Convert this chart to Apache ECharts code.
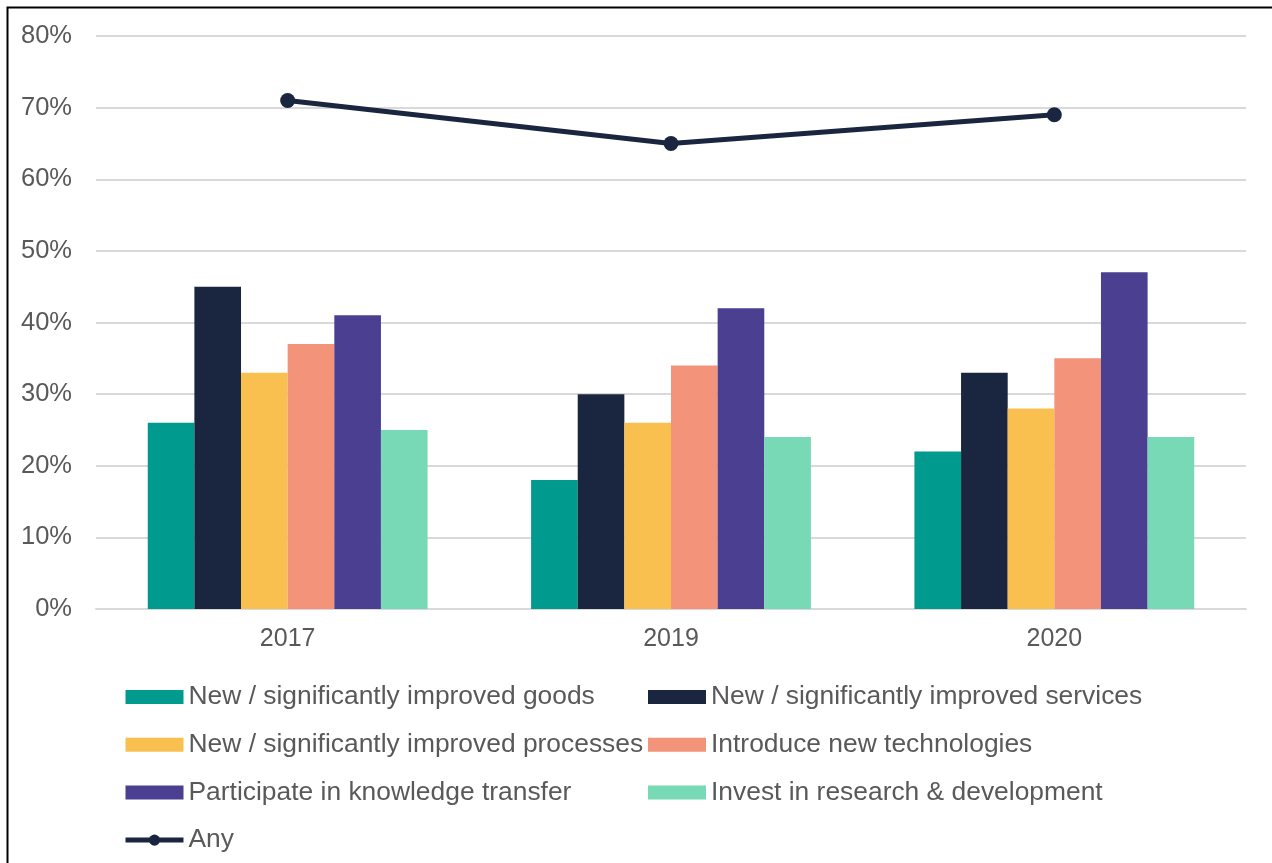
<!DOCTYPE html>
<html>
<head>
<meta charset="utf-8">
<script src="https://cdn.jsdelivr.net/npm/echarts@6/dist/echarts.min.js"></script>
<style>html,body{margin:0;padding:0;background:#fff;}#c{width:1272px;height:863px;}</style>
</head>
<body>
<div id="c"></div>
<script>
const categories = ['2017', '2019', '2020'];
const goods = [26, 18, 22];
const services = [45, 30, 33];
const processes = [33, 26, 28];
const technologies = [37, 34, 35];
const knowledge = [41, 42, 47];
const research = [25, 24, 24];
const anyVals = [71, 65, 69];
const yTicks = [0, 10, 20, 30, 40, 50, 60, 70, 80];

const names = {
  goods: 'New / significantly improved goods',
  services: 'New / significantly improved services',
  processes: 'New / significantly improved processes',
  technologies: 'Introduce new technologies',
  knowledge: 'Participate in knowledge transfer',
  research: 'Invest in research & development',
  any: 'Any'
};
const colors = {
  goods: '#009A8E', services: '#1A2640', processes: '#F9C04F',
  technologies: '#F2937A', knowledge: '#4A3F91', research: '#78D9B6', any: '#1A2640'
};

function bar(key, data) {
  return { name: names[key], type: 'bar', data: data, barGap: 0, barCategoryGap: '27%',
    itemStyle: { color: colors[key] } };
}
function rectItem(key) { return { name: names[key], icon: 'rect' }; }

const chart = echarts.init(document.getElementById('c'));
const legendText = { fontFamily: 'Liberation Sans, Arial, sans-serif', fontSize: 26.4, color: '#595959', lineHeight: 26 };
chart.setOption({
  animation: false,
  textStyle: { fontFamily: 'Liberation Sans, Arial, sans-serif' },
  graphic: [{ type: 'rect', left: 5, top: 5, shape: { width: 1300, height: 900 },
    style: { fill: 'none', stroke: '#000', lineWidth: 2 }, z: 100 }],
  grid: { left: 96, right: 26, top: 36, bottom: 254 },
  legend: [
    { orient: 'vertical', left: 118, top: 679, itemWidth: 58, itemHeight: 14, itemGap: 21.7,
      textStyle: legendText,
      data: [rectItem('goods'), rectItem('processes'), rectItem('knowledge'),
        { name: names.any, lineStyle: { width: 5 } }] },
    { orient: 'vertical', left: 643, top: 679, itemWidth: 58, itemHeight: 14, itemGap: 21.7,
      textStyle: legendText,
      data: [rectItem('services'), rectItem('technologies'), rectItem('research')] }
  ],
  xAxis: {
    type: 'category', data: categories,
    axisTick: { show: false },
    axisLine: { lineStyle: { color: '#d9d9d9', width: 2 } },
    axisLabel: { fontSize: 25, color: '#595959', margin: 18 }
  },
  yAxis: {
    type: 'value', min: yTicks[0], max: yTicks[yTicks.length - 1], interval: 10,
    axisLabel: { formatter: '{value}%', fontSize: 25.5, color: '#595959', margin: 24 },
    splitLine: { lineStyle: { color: '#d9d9d9', width: 2 } },
    axisLine: { show: false }, axisTick: { show: false }
  },
  series: [
    bar('goods', goods), bar('services', services), bar('processes', processes),
    bar('technologies', technologies), bar('knowledge', knowledge), bar('research', research),
    { name: names.any, type: 'line', data: anyVals, symbol: 'circle', symbolSize: 15,
      lineStyle: { color: colors.any, width: 5 }, itemStyle: { color: colors.any }, z: 10 }
  ]
});
</script>
</body>
</html>
